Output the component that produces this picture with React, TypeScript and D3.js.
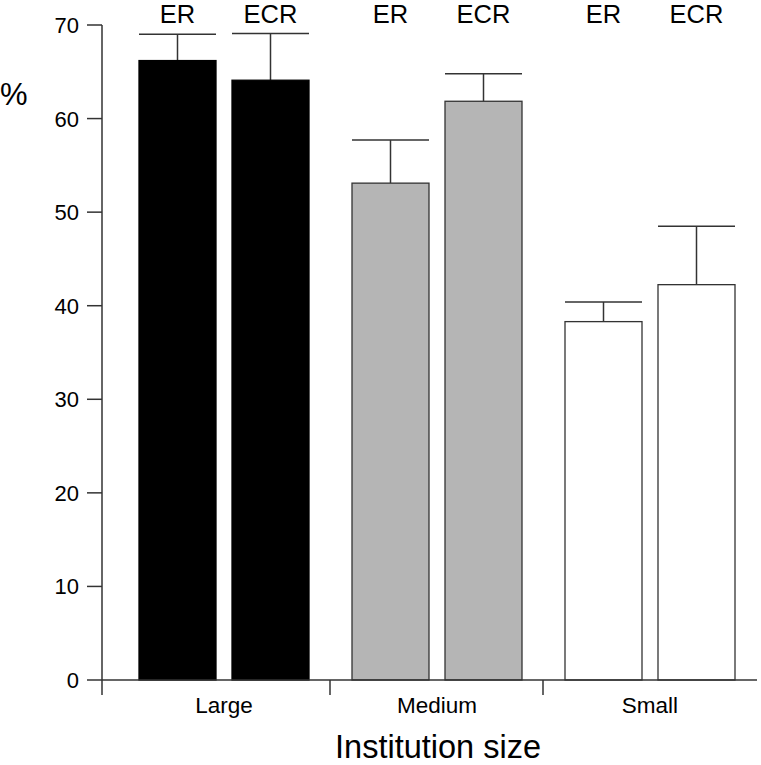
import React from "react";
import * as d3 from "d3";

const groups = ["Large", "Medium", "Small"];
const series = ["ER", "ECR"];
const means = [
  [66.2, 64.1],
  [53.1, 61.85],
  [38.3, 42.25],
];
const upper = [
  [69.0, 69.1],
  [57.7, 64.8],
  [40.4, 48.5],
];
const fills = ["#000000", "#b5b5b5", "#ffffff"];
const yTicks = [0, 10, 20, 30, 40, 50, 60, 70];

export default function App() {
  const W = 761, H = 765;
  const y = d3.scaleLinear().domain([0, 70]).range([680, 25]);
  const x0 = d3.scaleBand().domain(groups).range([117.5, 756.5]).paddingInner(0).paddingOuter(0);
  const x1 = d3.scaleBand().domain(series).range([21.5, x0.bandwidth() - 21.5]).paddingInner(16 / 93);
  const axisColor = "#333";
  const font = "Liberation Sans, Arial, sans-serif";
  const bounds = [102, 330, 543];
  return (
    <svg width={W} height={H} style={{ position: "absolute", left: 0, top: 0 }} fontFamily={font}>
      {groups.map((g, gi) =>
        series.map((s, si) => {
          const bx = (x0(g) as number) + (x1(s) as number);
          const bw = x1.bandwidth();
          const cx = bx + bw / 2;
          const black = gi === 0;
          return (
            <g key={g + s}>
              <line x1={cx} x2={cx} y1={y(means[gi][si])} y2={y(upper[gi][si])} stroke={axisColor} strokeWidth={1.5} />
              <line x1={bx} x2={bx + bw} y1={y(upper[gi][si])} y2={y(upper[gi][si])} stroke={axisColor} strokeWidth={1.5} />
              <rect x={bx} y={y(means[gi][si])} width={bw} height={y(0) - y(means[gi][si])} fill={fills[gi]} stroke={black ? "#000" : axisColor} strokeWidth={1.3} />
              <text x={cx} y={23} textAnchor="middle" fontSize={25.5}>{s}</text>
            </g>
          );
        })
      )}
      {/* y axis */}
      <line x1={102} x2={102} y1={y(70)} y2={y(0)} stroke={axisColor} strokeWidth={1.5} />
      {yTicks.map((t) => (
        <g key={t}>
          <line x1={87} x2={102} y1={y(t)} y2={y(t)} stroke={axisColor} strokeWidth={1.5} />
          <text x={79} y={y(t) + 8} textAnchor="end" fontSize={22}>{t}</text>
        </g>
      ))}
      {/* x axis */}
      <line x1={102} x2={757} y1={y(0)} y2={y(0)} stroke={axisColor} strokeWidth={1.5} />
      {bounds.map((b) => (
        <line key={b} x1={b} x2={b} y1={y(0)} y2={y(0) + 15} stroke={axisColor} strokeWidth={1.5} />
      ))}
      {groups.map((g) => (
        <text key={g} x={(x0(g) as number) + x0.bandwidth() / 2} y={712.5} textAnchor="middle" fontSize={22.5}>{g}</text>
      ))}
      <text x={0} y={105} fontSize={31}>%</text>
      <text x={438} y={757.5} textAnchor="middle" fontSize={32.5}>Institution size</text>
    </svg>
  );
}
